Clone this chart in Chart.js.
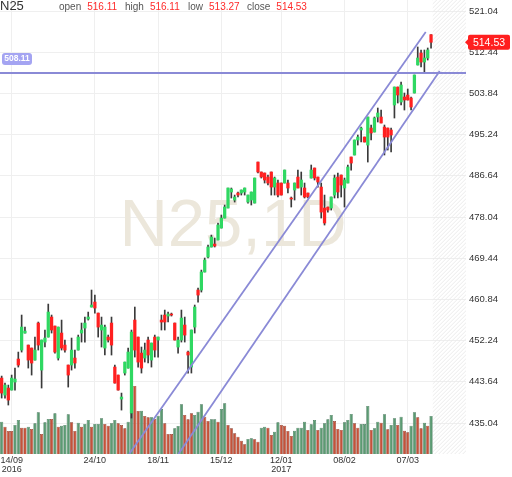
<!DOCTYPE html>
<html>
<head>
<meta charset="utf-8">
<script src="https://cdn.jsdelivr.net/npm/chart.js@4.4.1/dist/chart.umd.min.js"></script>
<style>
  html, body { margin: 0; padding: 0; background: #fff; }
</style>
</head>
<body>
<canvas id="c" width="512" height="477"></canvas>
<script>
// N25 daily, 14/09/2016 .. 14/03/2017
const symbol = 'N25';

const openP = [444.42,440.87,442.34,441.92,443.59,448.39,450.27,453.82,451.31,450.69,
  448.18,455.91,446.09,451.94,452.98,457.16,455.28,448.60,453.82,451.31,
  447.14,447.14,448.60,450.27,453.82,454.86,456.74,459.25,460.29,457.99,
  454.45,450.69,452.98,455.91,446.72,445.05,440.04,445.47,446.51,437.12,
  456.53,452.98,449.64,448.60,452.36,448.18,452.98,452.36,456.53,457.58,
  457.37,457.79,455.91,450.90,452.36,455.49,449.85,446.72,455.07,462.80,
  462.80,466.56,469.69,471.78,472.40,473.24,475.74,477.83,479.92,483.26,
  481.59,483.05,483.05,483.26,481.17,481.59,480.96,489.52,487.44,487.23,
  486.39,487.44,484.30,485.14,485.14,485.14,485.14,482.01,483.68,486.39,
  484.30,484.10,483.05,486.18,488.27,486.39,484.30,479.92,480.13,479.92,
  482.63,486.39,486.81,484.10,485.14,490.57,490.99,494.12,496.21,494.74,
  493.07,496.62,495.79,498.92,498.92,496.83,496.62,496.21,501.43,505.18,
  502.05,503.10,503.51,502.89,503.93,509.78,512.28,510.40,511.24,516.11];

const highP = [444.84,443.38,442.96,445.05,446.51,449.85,457.58,455.07,451.31,450.69,
  452.98,456.12,452.36,454.45,459.87,457.58,455.28,455.07,456.53,452.36,
  447.14,452.78,450.27,453.40,455.91,457.16,458.20,462.80,461.75,457.99,
  457.16,455.49,453.40,457.16,447.14,445.05,441.29,447.76,450.69,454.45,
  459.25,452.98,450.90,451.73,452.98,451.73,453.40,452.98,457.58,458.62,
  458.20,457.99,455.91,452.98,458.62,457.16,450.06,454.45,459.67,463.22,
  466.97,469.48,472.19,474.28,473.65,476.79,478.46,480.55,484.10,484.10,
  482.63,483.26,483.68,484.10,482.63,483.26,486.18,489.52,487.44,487.23,
  486.81,487.44,486.39,485.77,485.14,487.85,485.77,482.22,485.14,487.85,
  487.44,485.14,483.05,488.90,488.27,486.39,485.14,482.63,480.13,482.22,
  486.81,487.23,486.81,486.18,488.90,490.57,494.12,495.16,496.83,494.74,
  498.92,497.25,498.92,500.80,500.38,497.25,496.62,496.62,505.18,505.18,
  506.23,503.93,504.77,503.10,507.69,513.54,512.91,512.91,513.33,516.11];

const lowP = [440.25,440.25,438.79,441.92,441.92,446.72,449.85,453.82,446.51,445.05,
  448.18,450.27,442.34,450.90,452.98,453.82,449.64,448.18,450.27,449.85,
  442.54,446.09,446.51,450.27,451.94,451.94,456.53,459.25,457.99,452.98,
  450.90,449.23,451.94,449.23,443.38,441.92,437.74,445.05,446.51,436.07,
  448.81,446.72,445.47,447.76,447.56,446.72,448.81,448.81,454.45,454.45,
  456.12,457.37,452.36,449.64,451.94,451.94,445.47,445.47,453.82,460.29,
  462.38,466.56,469.48,471.78,471.78,473.24,475.74,477.83,479.92,482.01,
  481.17,482.22,482.63,482.63,480.96,480.55,480.96,487.23,486.18,485.14,
  484.72,482.63,482.63,482.22,482.63,485.14,483.05,480.13,481.59,484.10,
  482.63,482.01,482.01,486.18,485.77,484.30,477.83,476.37,479.08,479.50,
  482.01,482.01,482.22,480.13,485.14,487.85,490.99,493.07,493.70,493.70,
  489.52,494.12,495.79,497.88,497.67,490.99,492.03,491.61,498.71,501.84,
  501.43,500.38,502.47,500.38,503.93,509.78,509.36,508.32,510.82,513.27];

const closeP = [441.29,442.96,439.83,444.42,444.21,447.14,455.07,454.24,448.18,447.56,
  450.27,451.31,452.36,452.78,458.20,454.45,449.85,455.07,450.69,450.27,
  445.05,450.27,447.56,452.98,454.45,455.91,457.16,459.67,459.04,455.07,
  455.49,455.07,452.36,451.31,443.38,441.92,440.46,447.76,449.85,454.03,
  450.27,447.76,446.51,450.27,449.23,451.73,450.27,452.98,456.12,456.12,
  457.79,457.58,452.36,452.36,456.95,453.40,449.23,454.45,459.25,461.75,
  466.56,469.06,471.78,473.86,471.98,476.37,477.83,480.13,484.10,483.89,
  482.22,482.63,483.68,484.10,482.63,483.26,486.18,487.44,486.39,485.77,
  485.14,484.30,486.18,482.63,482.63,487.85,484.10,481.80,485.14,484.10,
  485.77,482.22,482.22,487.85,486.18,485.35,479.08,476.79,479.50,482.22,
  486.18,483.26,484.72,485.77,488.48,489.31,494.12,494.74,496.62,493.70,
  498.92,495.58,498.71,499.76,497.67,494.74,494.74,495.16,505.18,503.51,
  505.60,502.47,502.47,501.01,507.69,511.24,510.40,511.24,512.91,514.53];

const volume = [323,273,230,230,290,340,263,263,273,250,
  307,417,200,317,350,350,407,273,283,290,
  397,317,230,313,273,300,340,273,300,300,
  357,300,283,307,340,307,290,257,323,410,
  680,430,433,380,367,367,350,383,450,307,
  200,200,257,280,497,390,347,407,390,423,
  497,373,330,347,347,323,450,507,290,257,
  207,173,133,97,150,157,147,123,263,273,
  263,190,223,317,290,283,230,180,233,263,
  263,323,240,297,340,240,263,307,347,390,
  330,250,240,317,340,400,307,263,300,300,
  480,240,257,323,313,397,247,290,357,290,
  373,233,217,283,417,367,257,313,283,380];

const volUp = [1,0,0,0,1,1,0,0,1,0, 1,1,0,1,1,0,1,0,1,1, 1,0,0,1,0,1,1,0,1,1,
  1,0,0,1,1,0,0,0,1,1, 0,0,1,0,0,1,0,1,1,0, 0,0,1,1,1,0,0,0,1,1,
  1,0,0,1,1,0,1,1,0,0, 0,0,0,0,1,1,0,0,1,1, 0,0,1,1,0,0,0,0,1,1,
  1,1,0,1,1,0,1,1,1,1, 0,0,0,1,1,1,0,0,1,1, 1,0,1,1,0,1,0,1,1,0,
  1,0,0,1,1,0,0,1,0,1];

// x axis: trading-day slots, the last ones are empty future space
const SLOTS = 140;
const tickIdx  = [3, 28, 47, 66, 84, 103, 122];
const tickText = ['14/09', '24/10', '18/11', '15/12', '12/01', '08/02', '07/03'];
const tickYear = ['2016', '', '', '', '2017', '', ''];

const priceTicks = [435.04, 443.64, 452.24, 460.84, 469.44, 478.04, 486.64, 495.24, 503.84, 512.44, 521.04];

// drawn objects: channel (slot index, price) and horizontal level
const channelUpper = [[38.3, 428.57], [127.4, 516.67]];
const channelLower = [[53.1, 428.57], [131.6, 508.53]];
const levelPrice = 508.11;

const labels = Array.from({ length: SLOTS }, (_, i) => {
  const k = tickIdx.indexOf(i);
  if (k < 0) return '';
  return tickYear[k] ? [tickText[k], tickYear[k]] : tickText[k];
});

const GREEN = '#2fd862', RED = '#ff2020';
const bodyColors = closeP.map((c, i) => c >= openP[i] ? GREEN : RED);
const volFill = volUp.map(u => u ? '#5b9a72' : '#c4523a');
const volLine = volUp.map(u => u ? '#2f6646' : '#7a2a18');
const lineColor = '#8a8ad6';

Chart.defaults.font.family = '"Liberation Sans", Arial, sans-serif';

const overlay = {
  id: 'overlay',
  beforeDatasetsDraw(chart) {
    const { ctx, chartArea: a, scales: { x } } = chart;
    // hatched future area
    const hx = (x.getPixelForValue(closeP.length - 1) + x.getPixelForValue(closeP.length)) / 2;
    ctx.save();
    ctx.beginPath();
    ctx.rect(hx, a.top, a.right - hx, a.bottom - a.top);
    ctx.clip();
    ctx.strokeStyle = '#ebebeb';
    ctx.lineWidth = 1;
    const h = a.bottom - a.top;
    for (let k = -h; k < a.right - hx + 4; k += 4) {
      ctx.beginPath();
      ctx.moveTo(hx + k, a.bottom);
      ctx.lineTo(hx + k + h, a.top);
      ctx.stroke();
    }
    ctx.restore();

    // watermark
    ctx.save();
    ctx.font = '67px "Liberation Sans"';
    ctx.textAlign = 'center';
    ctx.textBaseline = 'alphabetic';
    ctx.fillStyle = '#ece7db';
    ctx.fillText(symbol + ',1D', 233, 246);
    ctx.restore();
  },
  afterDraw(chart) {
    const { ctx, chartArea: a, scales: { y } } = chart;
    const last = closeP.length - 1;
    ctx.save();

    // header
    ctx.textBaseline = 'alphabetic';
    ctx.textAlign = 'left';
    ctx.fillStyle = '#333';
    ctx.font = '13px "Liberation Sans"';
    ctx.fillText(symbol, 0, 10);
    ctx.font = '10px "Liberation Sans"';
    [['open', openP[last], 59], ['high', highP[last], 125], ['low', lowP[last], 188], ['close', closeP[last], 247]]
      .forEach(([name, v, px]) => {
        ctx.fillStyle = '#555';
        ctx.fillText(name, px, 10);
        ctx.fillStyle = '#ff2a2a';
        ctx.fillText(v.toFixed(2), px + ctx.measureText(name).width + 6, 10);
      });

    // level tag
    const hy = y.getPixelForValue(levelPrice);
    ctx.fillStyle = '#a4a4f2';
    ctx.beginPath();
    ctx.roundRect(2, hy - 20, 30, 12, 3);
    ctx.fill();
    ctx.fillStyle = '#fff';
    ctx.font = 'bold 8.5px "Liberation Sans"';
    ctx.textAlign = 'center';
    ctx.textBaseline = 'middle';
    ctx.fillText(levelPrice.toFixed(2), 17, hy - 14);

    // last price tag
    const ly = y.getPixelForValue(closeP[last]);
    const bx = a.right + 2;
    ctx.fillStyle = '#ff1f1f';
    ctx.beginPath();
    ctx.moveTo(bx - 3, ly);
    ctx.lineTo(bx + 1, ly - 4);
    ctx.lineTo(bx + 1, ly + 4);
    ctx.closePath();
    ctx.fill();
    ctx.beginPath();
    ctx.roundRect(bx, ly - 7.5, 42, 15, 2);
    ctx.fill();
    ctx.fillStyle = '#fff';
    ctx.font = '10.5px "Liberation Sans"';
    ctx.fillText(closeP[last].toFixed(2), bx + 21, ly + 0.5);
    ctx.restore();
  }
};

new Chart(document.getElementById('c'), {
  type: 'bar',
  data: {
    labels,
    datasets: [
      {
        label: 'volume',
        data: volume,
        yAxisID: 'vol',
        backgroundColor: volFill,
        borderColor: volLine,
        borderWidth: 0.6,
        barPercentage: 0.95,
        categoryPercentage: 1,
        grouped: false,
        order: 5
      },
      {
        label: 'wick',
        data: lowP.map((l, i) => [l, highP[i]]),
        backgroundColor: '#3a3a3a',
        barThickness: 1,
        grouped: false,
        order: 4
      },
      {
        label: 'body',
        data: openP.map((o, i) => [o, closeP[i]]),
        backgroundColor: bodyColors,
        barThickness: 2.6,
        minBarLength: 1,
        grouped: false,
        order: 3
      },
      {
        type: 'line',
        label: 'channel upper',
        xAxisID: 'xl',
        data: channelUpper.map(([x, y]) => ({ x, y })),
        borderColor: lineColor,
        borderWidth: 1.8,
        pointRadius: 0,
        order: 1
      },
      {
        type: 'line',
        label: 'channel lower',
        xAxisID: 'xl',
        data: channelLower.map(([x, y]) => ({ x, y })),
        borderColor: lineColor,
        borderWidth: 1.8,
        pointRadius: 0,
        order: 1
      },
      {
        type: 'line',
        label: 'level',
        xAxisID: 'xl',
        data: [{ x: -0.5, y: levelPrice }, { x: SLOTS - 0.5, y: levelPrice }],
        borderColor: lineColor,
        borderWidth: 1.8,
        pointRadius: 0,
        order: 1
      }
    ]
  },
  options: {
    responsive: false,
    animation: false,
    layout: { padding: 0 },
    plugins: { legend: { display: false }, tooltip: { enabled: false } },
    scales: {
      x: {
        type: 'category',
        offset: true,
        border: { display: false },
        grid: {
          offset: false,
          drawTicks: false,
          color: c => labels[c.index] !== '' ? '#efefef' : 'rgba(0,0,0,0)'
        },
        ticks: {
          autoSkip: false,
          maxRotation: 0,
          minRotation: 0,
          padding: 2,
          color: '#333',
          font: { size: 9, lineHeight: 1 }
        },
        afterFit: s => { s.height = 23; s.paddingLeft = 0; s.paddingRight = 0; }
      },
      xl: {
        type: 'linear',
        display: false,
        offset: false,
        grid: { offset: false },
        min: -0.5,
        max: SLOTS - 0.5
      },
      y: {
        position: 'right',
        min: 428.57,
        max: 523.35,
        border: { display: false },
        grid: { drawTicks: false, color: '#efefef' },
        afterBuildTicks: s => { s.ticks = priceTicks.map(v => ({ value: v })); },
        ticks: {
          padding: 3,
          color: '#333',
          font: { size: 9.5 },
          callback: v => Number(v).toFixed(2)
        },
        afterFit: s => { s.width = 46; s.paddingTop = 0; s.paddingBottom = 0; }
      },
      vol: {
        display: false,
        min: 0,
        max: 4540
      }
    }
  },
  plugins: [overlay]
});
</script>
</body>
</html>
